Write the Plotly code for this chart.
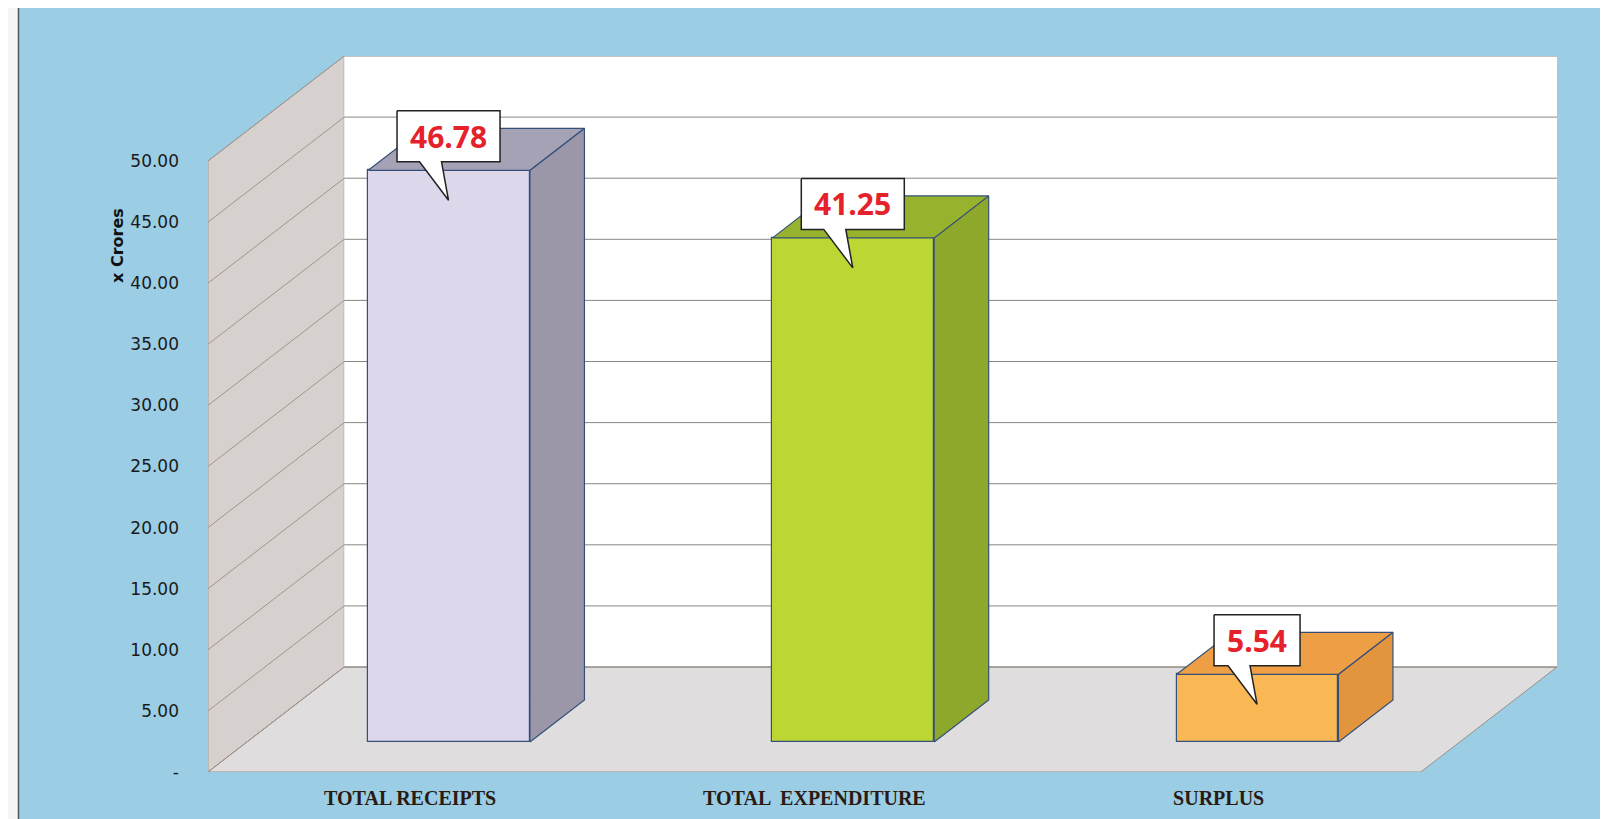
import plotly.graph_objects as go

# ---------------- data ----------------
categories = ["TOTAL RECEIPTS", "TOTAL  EXPENDITURE", "SURPLUS"]
values = [46.78, 41.25, 5.54]
value_labels = ["46.78", "41.25", "5.54"]
y_tick_vals = [0, 5, 10, 15, 20, 25, 30, 35, 40, 45, 50]
y_tick_text = ["-", "5.00", "10.00", "15.00", "20.00", "25.00", "30.00",
               "35.00", "40.00", "45.00", "50.00"]
front_colors = ["#ddd7ec", "#bcd633", "#f9b853"]
side_colors = ["#9b97a8", "#8da82b", "#e3953d"]
top_colors = ["#a6a2b6", "#97b22c", "#ee9f45"]

# ---------------- geometry / style ----------------
W, H = 1608, 819
ML, MR, MT, MB = 200, 59, 48, 55
Y_MAX_AXIS = 50
DX, DY = 0.337, 8.59          # depth vector of the 3-D box (data units)
F0, FD = 0.286, 0.40          # bar front offset and bar depth (fractions of depth)
BAR_W = 0.40
X0, X1 = -0.5, 2.5
x_range = [X0, X1 + DX]
y_range = [0, Y_MAX_AXIS + DY]
plot_w = W - ML - MR
plot_h = H - MT - MB
kx = (x_range[1] - x_range[0]) / plot_w   # data units per px (x)
ky = (y_range[1] - y_range[0]) / plot_h   # data units per px (y)

EDGE = "#34507a"
bg_blue = "#9bcde5"

fig = go.Figure()
shapes = []


def poly_path(pts):
    return "M " + " L ".join(f"{x},{y}" for x, y in pts) + " Z"


# left wall
shapes.append(dict(type="path", layer="below", xref="x", yref="y",
                   path=poly_path([(X0, 0), (X0, Y_MAX_AXIS), (X0 + DX, Y_MAX_AXIS + DY), (X0 + DX, DY)]),
                   fillcolor="#d6d1ce", line=dict(color="#a89c92", width=1)))
# back wall
shapes.append(dict(type="rect", layer="below", xref="x", yref="y",
                   x0=X0 + DX, x1=X1 + DX, y0=DY, y1=Y_MAX_AXIS + DY,
                   fillcolor="#ffffff", line=dict(width=0)))
# floor
shapes.append(dict(type="path", layer="below", xref="x", yref="y",
                   path=poly_path([(X0, 0), (X1, 0), (X1 + DX, DY), (X0 + DX, DY)]),
                   fillcolor="#dfdddd", line=dict(color="#9a9088", width=1)))
# back wall gridlines
for v in y_tick_vals:
    shapes.append(dict(type="line", layer="below", xref="x", yref="y",
                       x0=X0 + DX, x1=X1 + DX, y0=v + DY, y1=v + DY,
                       line=dict(color="#8c8680", width=1)))
# left wall diagonal gridlines
for v in y_tick_vals:
    shapes.append(dict(type="line", layer="below", xref="x", yref="y",
                       x0=X0, x1=X0 + DX, y0=v, y1=v + DY,
                       line=dict(color="#a0958d", width=1)))


def px_to_paper_x(px):
    return (px - ML) / plot_w


def px_to_paper_y(py):
    return (H - MB - py) / plot_h


# frame decoration (photo border)
shapes.append(dict(type="rect", layer="below", xref="paper", yref="paper",
                   x0=px_to_paper_x(0), x1=px_to_paper_x(10),
                   y0=px_to_paper_y(H), y1=px_to_paper_y(0),
                   fillcolor="#f4f6f4", line=dict(width=0)))
shapes.append(dict(type="line", layer="above", xref="paper", yref="paper",
                   x0=px_to_paper_x(10.5), x1=px_to_paper_x(10.5),
                   y0=px_to_paper_y(H), y1=px_to_paper_y(0),
                   line=dict(color="#4d5560", width=1.5)))
shapes.append(dict(type="line", layer="above", xref="paper", yref="paper",
                   x0=px_to_paper_x(10), x1=px_to_paper_x(W),
                   y0=px_to_paper_y(817), y1=px_to_paper_y(817),
                   line=dict(color="#5a5560", width=2)))

# ---------------- bars: front faces ----------------
base = F0 * DY
bar_x = [i + F0 * DX for i in range(len(values))]
fig.add_trace(go.Bar(
    x=bar_x, y=values, base=[base] * len(values), width=BAR_W,
    marker=dict(color=front_colors, line=dict(color=EDGE, width=1.2)),
    hoverinfo="skip", showlegend=False))

# side and top faces
for i, v in enumerate(values):
    xl = bar_x[i] - BAR_W / 2
    xr = bar_x[i] + BAR_W / 2
    ddx, ddy = FD * DX, FD * DY
    yt = base + v
    side = [(xr, base), (xr, yt), (xr + ddx, yt + ddy), (xr + ddx, base + ddy), (xr, base)]
    top = [(xl, yt), (xr, yt), (xr + ddx, yt + ddy), (xl + ddx, yt + ddy), (xl, yt)]
    for pts, col in ((side, side_colors[i]), (top, top_colors[i])):
        fig.add_trace(go.Scatter(
            x=[p[0] for p in pts], y=[p[1] for p in pts], mode="lines",
            fill="toself", fillcolor=col, line=dict(color=EDGE, width=1.2),
            hoverinfo="skip", showlegend=False))

# ---------------- callouts ----------------
annotations = []
for i, v in enumerate(values):
    tip_x = i + 0.095
    tip_y = v
    box_w = (103 if len(value_labels[i]) > 4 else 86) * kx
    box_h = 51 * ky
    cx = tip_x
    cy = tip_y + 64 * ky
    pts = [
        (cx - box_w / 2, cy + box_h / 2),
        (cx + box_w / 2, cy + box_h / 2),
        (cx + box_w / 2, cy - box_h / 2),
        (cx - 7 * kx, cy - box_h / 2),
        (tip_x, tip_y),
        (cx - 29 * kx, cy - box_h / 2),
        (cx - box_w / 2, cy - box_h / 2),
        (cx - box_w / 2, cy + box_h / 2),
    ]
    fig.add_trace(go.Scatter(
        x=[p[0] for p in pts], y=[p[1] for p in pts], mode="lines",
        fill="toself", fillcolor="#ffffff", line=dict(color="#222222", width=1.5),
        hoverinfo="skip", showlegend=False))
    annotations.append(dict(
        x=cx, y=cy, xref="x", yref="y", text=f"<b>{value_labels[i]}</b>",
        showarrow=False,
        font=dict(family="Open Sans, Lato, sans-serif", size=30, color="#e5212b")))

# y-axis title
annotations.append(dict(
    x=px_to_paper_x(98), y=px_to_paper_y(198), xref="paper", yref="paper",
    text="<b>x Crores</b>", textangle=-90, showarrow=False,
    font=dict(family="DejaVu Sans, sans-serif", size=16, color="#111111")))

fig.update_layout(
    width=W, height=H,
    margin=dict(l=ML, r=MR, t=MT, b=MB),
    paper_bgcolor=bg_blue,
    plot_bgcolor="rgba(0,0,0,0)",
    shapes=shapes,
    annotations=annotations,
    showlegend=False,
    bargap=0,
    xaxis=dict(
        range=x_range, tickmode="array", tickvals=[0, 1, 2], ticktext=categories,
        showgrid=False, zeroline=False, showline=False, ticks="",
        ticklabelstandoff=12,
        tickfont=dict(family="Liberation Serif, serif", size=20, color="#2a1a12", weight="bold"),
    ),
    yaxis=dict(
        range=y_range, tickmode="array", tickvals=y_tick_vals, ticktext=y_tick_text,
        showgrid=False, zeroline=False, showline=False, ticks="",
        ticklabelstandoff=28,
        tickfont=dict(family="DejaVu Sans, sans-serif", size=17, color="#1a1a1a"),
    ),
)

fig.write_html("out.html")
